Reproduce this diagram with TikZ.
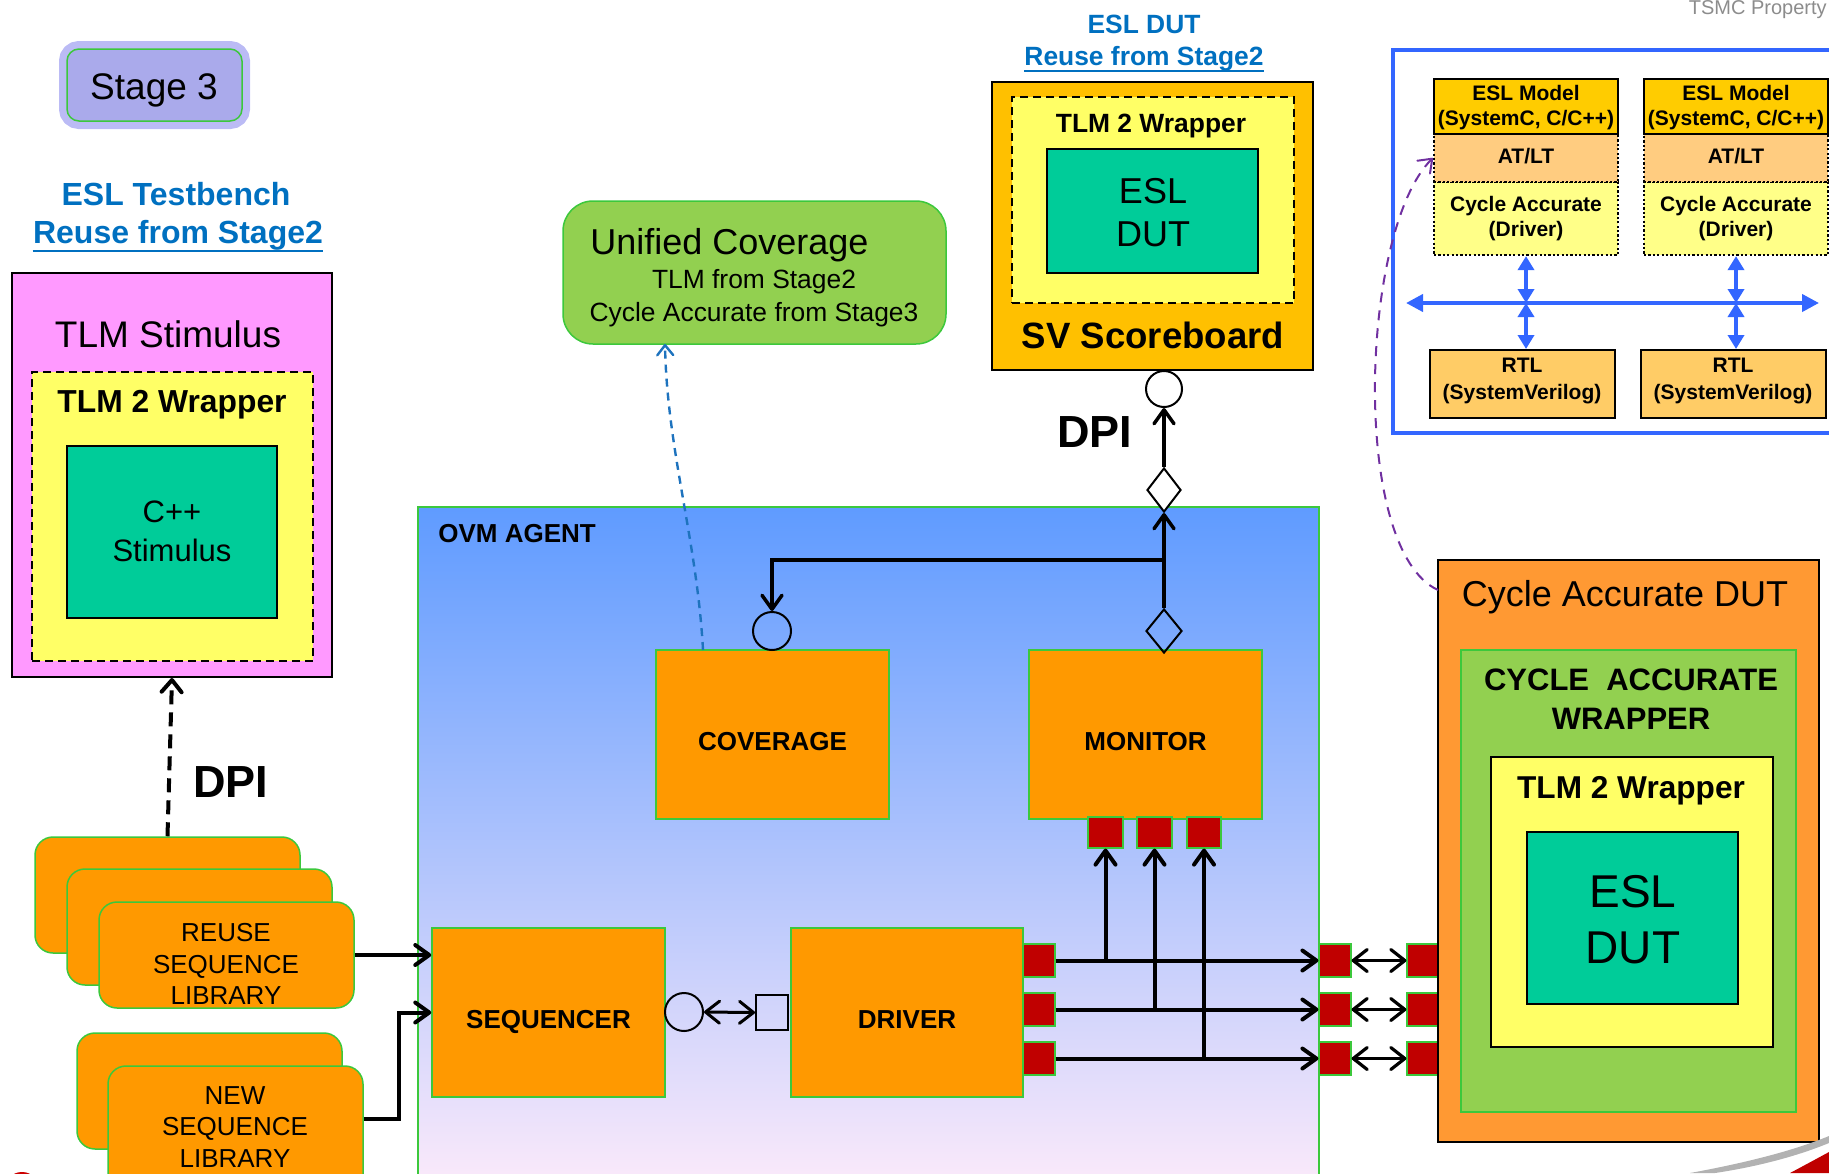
\documentclass[tikz,border=0pt]{standalone}
\usepackage{fontspec}
\setmainfont{Liberation Sans}
\usetikzlibrary{arrows.meta,fit,shapes.geometric,calc}
\definecolor{corange}{RGB}{255,153,0}
\definecolor{cgreen}{RGB}{60,200,60}
\definecolor{cred}{RGB}{192,0,0}
\definecolor{cteal}{RGB}{0,204,153}
\definecolor{cyel}{RGB}{255,255,102}
\definecolor{cpink}{RGB}{255,153,255}
\definecolor{clav}{RGB}{170,170,235}
\definecolor{chalo}{RGB}{120,120,235}
\definecolor{cug}{RGB}{146,208,80}
\definecolor{csv}{RGB}{255,192,0}
\definecolor{ccd}{RGB}{255,153,51}
\definecolor{cblue}{RGB}{0,112,192}
\definecolor{cesl}{RGB}{255,204,0}
\definecolor{catlt}{RGB}{255,204,128}
\definecolor{cdrv}{RGB}{255,255,136}
\definecolor{crtl}{RGB}{255,204,102}
\definecolor{cframe}{RGB}{51,102,255}
\definecolor{cpurple}{RGB}{112,48,160}
\definecolor{ctop}{RGB}{95,155,255}
\definecolor{cbot}{RGB}{252,234,250}
\definecolor{cdash}{RGB}{30,115,190}
\newcommand\fz[2]{\fontsize{#1}{#2}\selectfont}
\begin{document}
\begin{tikzpicture}[x=0.5pt,y=-0.5pt,
  t/.style={anchor=base, inner sep=0pt},
  tw/.style={anchor=base west, inner sep=0pt},
  obox/.style={inner sep=0pt, fill=corange, draw=cgreen, line width=0.75pt},
  port/.style={inner sep=0pt, fill=cred, draw=cgreen, line width=0.6pt},
  blk/.style={inner sep=0pt, draw=black, line width=1pt},
  dsh/.style={inner sep=0pt, draw=black, line width=0.8pt, dash pattern=on 4pt off 2.5pt},
  dotb/.style={inner sep=0pt, draw=black, line width=1.1pt, dash pattern=on 1.1pt off 1.1pt},
  arr/.style={line width=2pt, -{Straight Barb[length=7pt,width=10pt,round]}},
  arrm/.style={line width=1.75pt, -{Straight Barb[length=7pt,width=10pt,round]}},
  darr/.style={line width=1.6pt, {Straight Barb[length=7pt,width=11pt,round]}-{Straight Barb[length=7pt,width=11pt,round]}},
  barr/.style={line width=2pt, draw=cframe, {Triangle[length=7pt,width=8pt]}-{Triangle[length=7pt,width=8pt]}},
  barrh/.style={line width=2pt, draw=cframe, {Triangle[length=8.5pt,width=8.5pt]}-{Triangle[length=8.5pt,width=8.5pt]}},
  lbl/.style={anchor=base, inner sep=0pt, font=\fz{13}{15.6}\bfseries},
  sm/.style={anchor=base, inner sep=0pt, font=\fz{10.5}{12.5}\bfseries}
]
\useasboundingbox (0,0) rectangle (1829,1173);

% ---------- Stage 3 ----------
\node[fit={(67,49)(242,121)}, inner sep=0pt, rounded corners=6pt, draw=chalo, line width=8pt, opacity=0.5] (halo) {};
\node[fit={(67,49)(242,121)}, inner sep=0pt, rounded corners=6pt, fill=clav, draw=cgreen, line width=0.75pt] (stage) {};
\node[t, font=\fz{18.5}{22}] (stagetxt) at (154,99) {Stage 3};

% ---------- TSMC mark ----------
\node[anchor=base east, inner sep=0pt, font=\fz{10}{12}, text=black!45] (tsmc) at (1827,14) {TSMC Property};

% ---------- ESL testbench ----------
\node[t, font=\fz{16}{19}\bfseries, text=cblue] (esltb) at (176,205) {ESL Testbench};
\node[t, font=\fz{16}{19}\bfseries, text=cblue] (reuse1) at (178,243) {Reuse from Stage2};
\draw[cblue, line width=1.2pt] (reuse1.base west) ++(0,8) -- ($(reuse1.base east)+(0,8)$);

\node[fit={(12,273)(332,677)}, inner sep=0pt, fill=cpink, draw=black, line width=1pt] (tlms) {};
\node[fit={(32,372)(313,661)}, dsh, fill=cyel] (tlmw1) {};
\node[fit={(67,446)(277,618)}, blk, fill=cteal] (cpp) {};
\node[t, font=\fz{18.5}{22}] (tlmstxt) at (168,347) {TLM Stimulus};
\node[t, font=\fz{15.9}{19}\bfseries] (tlmw1txt) at (172,412) {TLM 2 Wrapper};
\node[t, font=\fz{15.5}{18}] (cpptxt) at (172,522) {C++};
\node[t, font=\fz{15.5}{18}] (stimtxt) at (172,561) {Stimulus};

% ---------- sequence libraries ----------
\node[fit={(35,837)(300,953)}, obox, rounded corners=9pt] (r1) {};
\node[fit={(67,869)(332,985)}, obox, rounded corners=9pt] (r2) {};
\node[fit={(99,902)(354,1008)}, obox, rounded corners=9pt] (r3) {};
\node[align=center, inner sep=0pt, font=\fz{13}{15.8}] (r3txt) at (226,964) {REUSE\\SEQUENCE\\LIBRARY};
\node[fit={(77,1033)(342,1149)}, obox, rounded corners=9pt] (n1) {};
\node[fit={(108,1066)(363,1195)}, obox, rounded corners=9pt] (n2) {};
\node[align=center, inner sep=0pt, font=\fz{13}{15.8}] (n2txt) at (235,1127) {NEW\\SEQUENCE\\LIBRARY};

% DPI (left)
\draw[line width=2pt, dash pattern=on 7pt off 4pt, -{Straight Barb[length=6pt,width=10pt,round]}] (r1.north) -- (tlms.south);
\node[tw, font=\fz{22.5}{27}\bfseries] (dpi1) at (193,797) {DPI};

% ---------- OVM agent ----------
\node[fit={(418,507)(1319,1190)}, inner sep=0pt, top color=ctop, bottom color=cbot, draw=cgreen, line width=0.75pt] (agent) {};
\node[tw, font=\fz{13}{15.6}\bfseries] (agenttxt) at (438,542) {OVM AGENT};

\node[fit={(656,650)(889,819)}, obox] (cov) {};
\node[fit={(1029,650)(1262,819)}, obox] (mon) {};
\node[fit={(432,928)(665,1097)}, obox] (seq) {};
\node[fit={(791,928)(1023,1097)}, obox] (drv) {};
\node[lbl] (covtxt) at ($(cov.center)+(0,16)$) {COVERAGE};
\node[lbl] (montxt) at ($(mon.center)+(0,16)$) {MONITOR};
\node[lbl] (seqtxt) at ($(seq.center)+(0,16)$) {SEQUENCER};
\node[lbl] (drvtxt) at ($(drv.center)+(0,16)$) {DRIVER};

% ports
\node[port, fit={(1023,944)(1055,977)}] (dp1) {};
\node[port, fit={(1023,993)(1055,1026)}] (dp2) {};
\node[port, fit={(1023,1042)(1055,1075)}] (dp3) {};
\node[port, fit={(1319,944)(1351,977)}] (rl1) {};
\node[port, fit={(1319,993)(1351,1026)}] (rl2) {};
\node[port, fit={(1319,1042)(1351,1075)}] (rl3) {};
\node[port, fit={(1407,944)(1438,977)}] (rr1) {};
\node[port, fit={(1407,993)(1438,1026)}] (rr2) {};
\node[port, fit={(1407,1042)(1438,1075)}] (rr3) {};
\node[port, fit={(1088,817)(1123,848)}] (mp1) {};
\node[port, fit={(1137,817)(1172,848)}] (mp2) {};
\node[port, fit={(1187,817)(1221,848)}] (mp3) {};

\draw[arr] (dp1.east) -- (rl1.west);
\draw[arr] (dp2.east) -- (rl2.west);
\draw[arr] (dp3.east) -- (rl3.west);
\draw[arr] (mp1.south |- dp1.east) -- (mp1.south);
\draw[arr] (mp2.south |- dp2.east) -- (mp2.south);
\draw[arr] (mp3.south |- dp3.east) -- (mp3.south);
\draw[darr] (rl1.east) -- (rr1.west);
\draw[darr] (rl2.east) -- (rr2.west);
\draw[darr] (rl3.east) -- (rr3.west);

% sequencer - driver
\node[circle, draw=black, line width=1pt, minimum size=19pt, inner sep=0pt] (sc) at (684,1012) {};
\node[fit={(756,995)(788,1030)}, blk] (sq) {};
\draw[darr, line width=1.5pt] (sc.east) -- (sq.west);

% library arrows
\draw[arr] (r3.east) -- (r3.east -| seq.west);
\draw[arr] (n2.east |- 0,1119) -- ++(35,0) |- (seq.west);

% monitor / coverage analysis ports
\node[diamond, draw=black, line width=1pt, minimum width=18pt, minimum height=22pt, inner sep=0pt] (dl) at (1164,631) {};
\node[diamond, draw=black, fill=white, line width=1pt, minimum width=17pt, minimum height=22pt, inner sep=0pt] (du) at (1164,490) {};
\node[circle, draw=black, line width=1pt, minimum size=19pt, inner sep=0pt] (cc) at (772,631) {};
\coordinate (br) at (1164,560);
\draw[arrm] (dl.north) -- (du.south);
\draw[arrm] (br) -| (cc.north);

% ---------- Unified coverage ----------
\node[fit={(563,201)(946,344)}, inner sep=0pt, rounded corners=15pt, fill=cug, draw=cgreen, line width=0.75pt] (ug) {};
\node[tw, font=\fz{18}{21.6}] (ugtxt) at (590,254) {Unified Coverage};
\node[t, font=\fz{13.2}{15.8}] (ugtxt2) at (754,288) {TLM from Stage2};
\node[t, font=\fz{13.2}{15.8}] (ugtxt3) at (754,321) {Cycle Accurate from Stage3};
\coordinate (covout) at (703,650);
\coordinate (ugin) at (665,344);
\draw[cdash, line width=1.2pt, dash pattern=on 4pt off 3pt, -{Straight Barb[length=5pt,width=8pt,round]}] (covout) .. controls (697,540) and (667,450) .. (ugin);

% ---------- SV scoreboard ----------
\node[t, font=\fz{13.2}{16}\bfseries, text=cblue] (esldutl) at (1144,33) {ESL DUT};
\node[t, font=\fz{13.2}{16}\bfseries, text=cblue] (reuse2) at (1144,65) {Reuse from Stage2};
\draw[cblue, line width=1.1pt] (reuse2.base west) ++(0,6) -- ($(reuse2.base east)+(0,6)$);
\node[fit={(992,82)(1313,370)}, inner sep=0pt, fill=csv, draw=black, line width=1pt] (sb) {};
\node[fit={(1012,97)(1294,303)}, dsh, fill=cyel] (tlmw2) {};
\node[fit={(1047,149)(1258,273)}, blk, fill=cteal] (esl2) {};
\node[t, font=\fz{13.2}{15.8}\bfseries] (tlmw2txt) at (1151,132) {TLM 2 Wrapper};
\node[t, font=\fz{18}{21.6}] (esl2a) at (1153,203) {ESL};
\node[t, font=\fz{18}{21.6}] (esl2b) at (1153,246) {DUT};
\node[t, font=\fz{18.3}{22}\bfseries] (sbtxt) at (1153,348) {SV Scoreboard};
\node[circle, draw=black, fill=white, line width=1pt, minimum size=18pt, inner sep=0pt] (scc) at (1164,389) {};
\draw[arrm] (du.north) -- (scc.south);
\node[tw, font=\fz{22.5}{27}\bfseries] (dpi2) at (1057,447) {DPI};

% ---------- Cycle accurate DUT ----------
\node[fit={(1438,560)(1819,1142)}, inner sep=0pt, fill=ccd, draw=black, line width=1pt] (cdut) {};
\node[fit={(1461,650)(1796,1112)}, inner sep=0pt, fill=cug, draw=cgreen, line width=0.75pt] (caw) {};
\node[fit={(1491,757)(1773,1047)}, blk, fill=cyel] (tlmw3) {};
\node[fit={(1527,832)(1738,1004)}, blk, fill=cteal] (esl3) {};
\node[t, font=\fz{18}{21.6}] (cduttxt) at (1625,606) {Cycle Accurate DUT};
\node[t, font=\fz{15.5}{18.6}\bfseries] (cawtxt1) at (1631,690) {CYCLE\ \ ACCURATE};
\node[t, font=\fz{15.5}{18.6}\bfseries] (cawtxt2) at (1631,729) {WRAPPER};
\node[t, font=\fz{15.8}{19}\bfseries] (tlmw3txt) at (1631,798) {TLM 2 Wrapper};
\node[t, font=\fz{23}{27.6}] (esl3a) at (1633,907) {ESL};
\node[t, font=\fz{23}{27.6}] (esl3b) at (1633,963) {DUT};

% ---------- ESL / RTL panel ----------
\node[fit={(1393,50)(1860,433)}, inner sep=0pt, draw=cframe, line width=2pt] (frame) {};
\node[fit={(1434,182)(1618,255)}, dotb, fill=cdrv] (cy1) {};
\node[fit={(1434,134)(1618,182)}, dotb, fill=catlt] (at1) {};
\node[fit={(1434,79)(1618,134)}, blk, fill=cesl] (em1) {};
\node[fit={(1644,182)(1828,255)}, dotb, fill=cdrv] (cy2) {};
\node[fit={(1644,134)(1828,182)}, dotb, fill=catlt] (at2) {};
\node[fit={(1644,79)(1828,134)}, blk, fill=cesl] (em2) {};
\node[fit={(1430,350)(1615,418)}, blk, fill=crtl] (rtl1) {};
\node[fit={(1641,350)(1826,418)}, blk, fill=crtl] (rtl2) {};
\node[sm] (em1a) at (1526,100) {ESL Model};
\node[sm] (em1b) at (1526,125) {(SystemC, C/C++)};
\node[sm] (at1t) at (1526,163) {AT/LT};
\node[sm] (cy1a) at (1526,211) {Cycle Accurate};
\node[sm] (cy1b) at (1526,236) {(Driver)};
\node[sm] (em2a) at (1736,100) {ESL Model};
\node[sm] (em2b) at (1736,125) {(SystemC, C/C++)};
\node[sm] (at2t) at (1736,163) {AT/LT};
\node[sm] (cy2a) at (1736,211) {Cycle Accurate};
\node[sm] (cy2b) at (1736,236) {(Driver)};
\node[sm] (rtl1a) at (1522,372) {RTL};
\node[sm] (rtl1b) at (1522,399) {(SystemVerilog)};
\node[sm] (rtl2a) at (1733,372) {RTL};
\node[sm] (rtl2b) at (1733,399) {(SystemVerilog)};
\coordinate (busL) at (1406,303);
\coordinate (busR) at (1819,303);
\coordinate (bus1) at (1526,303);
\coordinate (bus2) at (1736,303);
\draw[barrh] (busL) -- (busR);
\draw[barr] (cy1.south) -- (bus1);
\draw[barr] (bus1) -- (bus1 |- rtl1.north);
\draw[barr] (cy2.south) -- (bus2);
\draw[barr] (bus2) -- (bus2 |- rtl2.north);

% purple link
\coordinate (cdout) at (1438,590);
\draw[cpurple, line width=1pt, dash pattern=on 5pt off 4pt, -{Straight Barb[length=6pt,width=9pt,round]}] (cdout) .. controls (1350,550) and (1360,230) .. (at1.west);

% ---------- logo fragments ----------
\fill[black!30] (1690,1173) .. controls (1750,1162) and (1795,1150) .. (1829,1136) -- (1829,1143) .. controls (1795,1157) and (1755,1167) .. (1715,1173) -- cycle;
\fill[red!75!black] (1790,1173) .. controls (1805,1165) .. (1829,1152) -- (1829,1173) -- cycle;
\fill[red!80!black] (22,1177) ellipse (10 and 5);
\end{tikzpicture}
\end{document}
